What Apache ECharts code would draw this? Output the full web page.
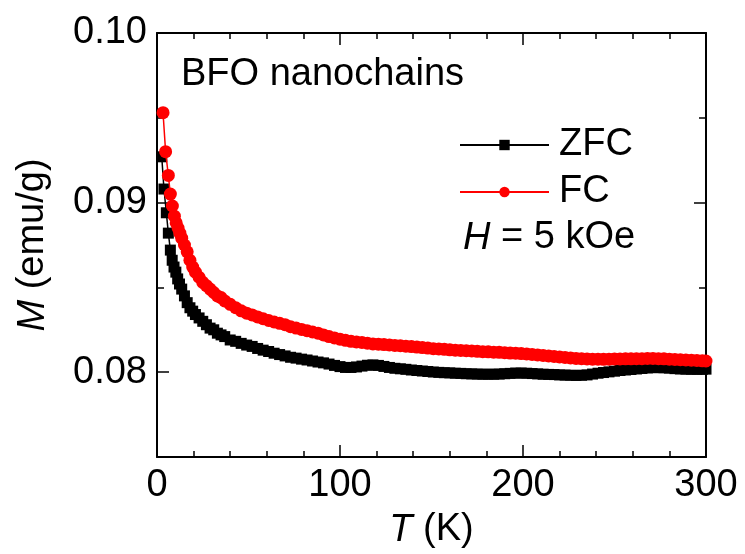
<!DOCTYPE html>
<html>
<head>
<meta charset="utf-8">
<script src="https://cdn.jsdelivr.net/npm/echarts@6/dist/echarts.min.js"></script>
<style>
html, body { margin: 0; padding: 0; background: #fff; }
#chart { width: 745px; height: 554px; }
</style>
</head>
<body>
<div id="chart"></div>
<script>
// ZFC curve, temperature (K) and magnetization (emu/g)
const tZfc = [2.6, 3.8, 5.1, 6.2, 7.3, 8.3, 9.3, 10.3, 11.3, 12.3, 13.5, 15, 16.5, 18, 19.5, 21, 23, 25, 27, 29, 31, 33, 35, 37,
    40, 43, 46, 49, 52, 55, 58, 61, 64, 67, 70, 73, 76, 79, 82, 85, 88, 91, 94, 97, 100, 103, 106, 109, 112, 115, 118,
    121, 124, 127, 130, 133, 136, 139, 142, 145, 148, 151, 154, 157, 160, 163, 166, 169, 172, 175, 178, 181, 184, 187,
    190, 193, 196, 199, 202, 205, 208, 211, 214, 217, 220, 223, 226, 229, 232, 235, 238, 241, 244, 247, 250, 253, 256,
    259, 262, 265, 268, 271, 274, 277, 280, 283, 286, 289, 292, 295, 298, 300]
const mZfc = [0.0927, 0.0908, 0.0894, 0.0882, 0.0872, 0.0866, 0.0862, 0.0859, 0.0855, 0.0852, 0.0849, 0.0845, 0.0841,
    0.0838, 0.0836, 0.0834, 0.0832, 0.0830, 0.0828, 0.0826, 0.0825, 0.0823, 0.0822, 0.0821,
    0.08190, 0.08182, 0.08170, 0.08160, 0.08152, 0.08140, 0.08130, 0.08122, 0.08112, 0.08104, 0.08096, 0.08088, 0.08083,
    0.08077, 0.08072, 0.08066, 0.08060, 0.08055, 0.08048, 0.08040, 0.08033, 0.08028, 0.08028, 0.08031, 0.08036, 0.08041,
    0.08043, 0.08040, 0.08034, 0.08028, 0.08023, 0.08020, 0.08017, 0.08013, 0.08010, 0.08007, 0.08004, 0.08001, 0.07999,
    0.07997, 0.07996, 0.07994, 0.07993, 0.07991, 0.07990, 0.07989, 0.07988, 0.07988, 0.07988, 0.07989, 0.07991, 0.07993,
    0.07995, 0.07995, 0.07994, 0.07992, 0.07990, 0.07988, 0.07987, 0.07986, 0.07984, 0.07983, 0.07982, 0.07981, 0.07982,
    0.07984, 0.07989, 0.07994, 0.07998, 0.08002, 0.08006, 0.08010, 0.08013, 0.08016, 0.08019, 0.08022, 0.08025, 0.08027,
    0.08027, 0.08026, 0.08024, 0.08021, 0.08019, 0.08018, 0.08017, 0.08017, 0.08017, 0.08018]

// FC curve
const tFc = [3.3, 4.7, 6.2, 7.3, 8.4, 9.5, 10.5, 11.5, 12.5, 13.5, 15, 16.5, 18, 19.5, 21, 23, 25, 27, 29, 31, 33, 35, 37,
    40, 43, 46, 49, 52, 55, 58, 61, 64, 67, 70, 73, 76, 79, 82, 85, 88, 91, 94, 97, 100, 103, 106, 109, 112, 115, 118,
    121, 124, 127, 130, 133, 136, 139, 142, 145, 148, 151, 154, 157, 160, 163, 166, 169, 172, 175, 178, 181, 184, 187,
    190, 193, 196, 199, 202, 205, 208, 211, 214, 217, 220, 223, 226, 229, 232, 235, 238, 241, 244, 247, 250, 253, 256,
    259, 262, 265, 268, 271, 274, 277, 280, 283, 286, 289, 292, 295, 298, 300]
const mFc = [0.0953, 0.0930, 0.0916, 0.0905, 0.0898, 0.0892, 0.0888, 0.0885, 0.0882, 0.0879, 0.0875, 0.0871, 0.0866,
    0.0862, 0.0859, 0.0856, 0.0853, 0.0851, 0.0849, 0.0847, 0.0845, 0.0844, 0.0842,
    0.08400, 0.08380, 0.08362, 0.08348, 0.08338, 0.08326, 0.08315, 0.08305, 0.08296, 0.08288, 0.08280, 0.08268, 0.08260,
    0.08252, 0.08245, 0.08237, 0.08230, 0.08220, 0.08210, 0.08202, 0.08195, 0.08188, 0.08182, 0.08178, 0.08175, 0.08171,
    0.08167, 0.08165, 0.08163, 0.08161, 0.08158, 0.08156, 0.08153, 0.08151, 0.08148, 0.08145, 0.08142, 0.08139, 0.08137,
    0.08135, 0.08132, 0.08130, 0.08128, 0.08127, 0.08125, 0.08123, 0.08121, 0.08120, 0.08118, 0.08117, 0.08115, 0.08113,
    0.08112, 0.08110, 0.08108, 0.08105, 0.08102, 0.08099, 0.08096, 0.08093, 0.08090, 0.08087, 0.08084, 0.08081, 0.08080,
    0.08078, 0.08077, 0.08077, 0.08076, 0.08077, 0.08078, 0.08078, 0.08079, 0.08079, 0.08080, 0.08080, 0.08081, 0.08081,
    0.08080, 0.08079, 0.08077, 0.08075, 0.08074, 0.08072, 0.08071, 0.08069, 0.08067, 0.08066]

const yLabels = [0.08, 0.09, 0.10]

const font = 'Liberation Sans, Arial, sans-serif'
const black = '#000'

function zip(xs, ys) {
    return xs.map((x, i) => [x, ys[i]])
}

function xAxisOf(position, showLabel) {
    return {
        type: 'value',
        position: position,
        min: 0,
        max: 300,
        interval: 100,
        axisLine: { onZero: false, lineStyle: { color: black, width: 2 } },
        axisTick: { inside: true, length: 12, lineStyle: { color: black, width: 1.5 } },
        minorTick: { show: true, splitNumber: 5, length: 6, lineStyle: { color: black, width: 1.5 } },
        splitLine: { show: false },
        axisLabel: { show: showLabel, fontSize: 38, color: black, fontFamily: font, margin: 10 }
    }
}

function yAxisOf(position, showLabel) {
    return {
        type: 'value',
        position: position,
        min: 0.075,
        max: 0.1,
        interval: 0.005,
        axisLine: { onZero: false, lineStyle: { color: black, width: 2 } },
        axisTick: { inside: true, length: 7, lineStyle: { color: black, width: 1.5 } },
        splitLine: { show: false },
        axisLabel: {
            show: showLabel,
            fontSize: 38,
            color: black,
            fontFamily: font,
            margin: 10,
            formatter: v => yLabels.some(t => Math.abs(t - v) < 1e-9) ? v.toFixed(2) : ''
        }
    }
}

// longer ticks at the labelled values
function yMajorOf(position) {
    return {
        type: 'value',
        position: position,
        min: 0.075,
        max: 0.1,
        interval: 0.005,
        axisLine: { show: false, onZero: false },
        axisTick: { inside: true, length: 12, customValues: yLabels, lineStyle: { color: black, width: 1.5 } },
        splitLine: { show: false },
        axisLabel: { show: false }
    }
}

const xBottom = xAxisOf('bottom', true)
xBottom.name = '{i|T} (K)'
xBottom.nameLocation = 'middle'
xBottom.nameGap = 54
xBottom.nameTextStyle = {
    fontSize: 38, color: black, fontFamily: font,
    rich: { i: { fontStyle: 'italic', fontSize: 38, color: black, fontFamily: font } }
}

const yLeft = yAxisOf('left', true)
yLeft.name = '{i|M} (emu/g)'
yLeft.nameLocation = 'middle'
yLeft.nameGap = 105
yLeft.nameTextStyle = {
    fontSize: 38, color: black, fontFamily: font,
    rich: { i: { fontStyle: 'italic', fontSize: 38, color: black, fontFamily: font } }
}

const option = {
    animation: false,
    backgroundColor: '#fff',
    grid: { left: 157, right: 39, top: 33, bottom: 97, containLabel: false },
    xAxis: [xBottom, xAxisOf('top', false)],
    yAxis: [yLeft, yAxisOf('right', false), yMajorOf('left'), yMajorOf('right')],
    legend: {
        data: ['ZFC', 'FC'],
        orient: 'vertical',
        left: 459,
        top: 126,
        itemWidth: 89,
        itemHeight: 13,
        itemGap: 9,
        padding: 0,
        textStyle: { fontSize: 38, color: black, fontFamily: font, padding: [0, 0, 0, 5] }
    },
    graphic: [
        {
            type: 'text',
            x: 181,
            y: 75,
            style: { text: 'BFO nanochains', fontSize: 38, fontFamily: font, fill: black, verticalAlign: 'middle' }
        },
        {
            type: 'text',
            x: 463,
            y: 238,
            style: {
                text: '{i|H} = 5 kOe',
                fontSize: 38,
                fontFamily: font,
                fill: black,
                verticalAlign: 'middle',
                rich: { i: { fontStyle: 'italic', fontSize: 38, fontFamily: font, fill: black } }
            }
        }
    ],
    series: [
        {
            name: 'ZFC',
            type: 'line',
            data: zip(tZfc, mZfc),
            symbol: 'rect',
            symbolSize: 11,
            color: black,
            lineStyle: { color: black, width: 1.5 },
            itemStyle: { color: black },
            z: 2
        },
        {
            name: 'FC',
            type: 'line',
            data: zip(tFc, mFc),
            symbol: 'circle',
            symbolSize: 13,
            color: '#ff0000',
            lineStyle: { color: '#ff0000', width: 1.5 },
            itemStyle: { color: '#ff0000' },
            z: 3
        }
    ]
}

const chart = echarts.init(document.getElementById('chart'))
chart.setOption(option)
</script>
</body>
</html>
